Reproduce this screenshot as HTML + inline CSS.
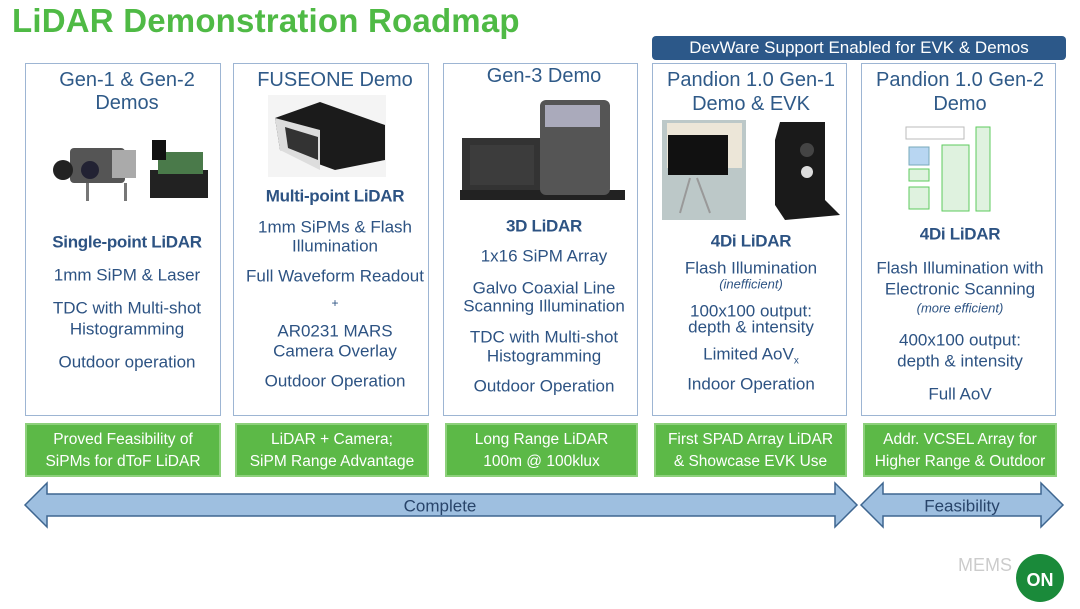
<!DOCTYPE html>
<html><head><meta charset="utf-8"><style>
*{margin:0;padding:0;box-sizing:border-box}
body{width:1080px;height:609px;background:#fff;position:relative;overflow:hidden;font-family:"Liberation Sans",sans-serif;color:#2d5383}
.t{position:absolute;white-space:nowrap;transform:translate(-50%,-50%);font-size:17px;line-height:1}
.h{font-size:20px;color:#2f5a88}
.b{font-weight:bold;font-size:17px;letter-spacing:-0.3px}
.s{font-size:13px;font-style:italic}
.box{position:absolute;top:63px;height:353px;border:1.5px solid #9db5d3;background:#fff}
.g{position:absolute;top:423px;height:54px;background:#5cb947;border:2px solid #8dd07b;color:#fff;font-size:15.5px;text-align:center;line-height:22px;padding-top:4px}
</style></head><body>
<div style="position:absolute;left:12px;top:2px;font-size:33px;color:#4fba45;font-weight:bold;letter-spacing:0.2px">LiDAR Demonstration Roadmap</div>
<div style="position:absolute;left:652px;top:36px;width:414px;height:24px;background:#2c5889;border-radius:4px;color:#fff;font-size:17px;text-align:center;line-height:24px">DevWare Support Enabled for EVK &amp; Demos</div>

<div class="box" style="left:25px;width:196px"></div>
<div class="box" style="left:233px;width:196px"></div>
<div class="box" style="left:443px;width:195px"></div>
<div class="box" style="left:652px;width:195px"></div>
<div class="box" style="left:861px;width:195px"></div>

<!-- images -->
<svg style="position:absolute;left:0;top:0" width="1080" height="609">
 <g>
  <rect x="70" y="148" width="55" height="35" fill="#555" rx="4"/><circle cx="63" cy="170" r="10" fill="#222"/><circle cx="90" cy="170" r="9" fill="#223"/>
  <rect x="112" y="150" width="24" height="28" fill="#aaa"/><rect x="86" y="183" width="3" height="18" fill="#777"/><rect x="124" y="183" width="3" height="18" fill="#777"/>
  <rect x="150" y="170" width="58" height="28" fill="#222"/><rect x="158" y="152" width="45" height="22" fill="#4a7a4a"/><rect x="152" y="140" width="14" height="20" fill="#111"/>
 </g>
 <g>
  <rect x="268" y="95" width="118" height="82" fill="#f4f4f4"/>
  <polygon points="275,118 320,102 385,125 385,160 335,170 280,150" fill="#1b1b1b"/>
  <polygon points="275,118 320,130 320,170 280,150" fill="#ddd"/>
  <polygon points="285,127 318,137 318,160 288,148" fill="#333"/>
 </g>
 <g>
  <rect x="462" y="138" width="80" height="55" fill="#333"/><rect x="460" y="190" width="165" height="10" fill="#222"/>
  <rect x="540" y="100" width="70" height="95" fill="#555" rx="6"/><rect x="545" y="105" width="55" height="22" fill="#aab"/>
  <rect x="470" y="145" width="64" height="40" fill="#3c3c3c"/>
 </g>
 <g>
  <rect x="662" y="120" width="84" height="100" fill="#bcc8c8"/><rect x="667" y="123" width="75" height="45" fill="#ece6d8"/>
  <rect x="668" y="135" width="60" height="40" fill="#111"/><line x1="690" y1="178" x2="680" y2="213" stroke="#999" stroke-width="2"/><line x1="697" y1="178" x2="710" y2="213" stroke="#999" stroke-width="2"/>
  <polygon points="775,140 780,122 825,122 825,200 840,215 785,220 775,205" fill="#1a1a1a"/>
  <circle cx="807" cy="150" r="7" fill="#444"/><circle cx="807" cy="172" r="6" fill="#ddd"/>
 </g>
 <g fill="#dff2df" stroke="#5ecb5e" stroke-width="1">
  <rect x="906" y="127" width="58" height="12" fill="#fff" stroke="#bbb"/>
  <rect x="909" y="147" width="20" height="18" fill="#b8d6f2" stroke="#7ab"/>
  <rect x="909" y="169" width="20" height="12"/>
  <rect x="909" y="187" width="20" height="22"/>
  <rect x="942" y="145" width="27" height="66"/>
  <rect x="976" y="127" width="14" height="84"/>
 </g>
 <!-- arrows -->
 <polygon points="25,505 47,483 47,494 835,494 835,483 857,505 835,527 835,516 47,516 47,527" fill="#9ebfe0" stroke="#3e6690" stroke-width="1.5"/>
 <polygon points="861,505 883,483 883,494 1041,494 1041,483 1063,505 1041,527 1041,516 883,516 883,527" fill="#9ebfe0" stroke="#3e6690" stroke-width="1.5"/>
 <!-- logo -->
 <circle cx="1040" cy="578" r="24" fill="#1a8a3a"/>
</svg>
<div class="t" style="left:440px;top:506px;font-size:17px;color:#28446a">Complete</div>
<div class="t" style="left:962px;top:506px;font-size:17px;color:#28446a">Feasibility</div>
<div class="t" style="left:985px;top:565px;font-size:18px;color:#ccc">MEMS</div>
<div class="t" style="left:1040px;top:580px;font-size:18px;color:#fff;font-weight:bold">ON</div>

<!-- box1 -->
<div class="t h" style="left:127px;top:80px">Gen-1 &amp; Gen-2</div>
<div class="t h" style="left:127px;top:103px">Demos</div>
<div class="t b" style="left:127px;top:242px">Single-point LiDAR</div>
<div class="t" style="left:127px;top:275px">1mm SiPM &amp; Laser</div>
<div class="t" style="left:127px;top:308px">TDC with Multi-shot</div>
<div class="t" style="left:127px;top:329px">Histogramming</div>
<div class="t" style="left:127px;top:362px">Outdoor operation</div>
<!-- box2 -->
<div class="t h" style="left:335px;top:80px">FUSEONE Demo</div>
<div class="t b" style="left:335px;top:196px">Multi-point LiDAR</div>
<div class="t" style="left:335px;top:227px">1mm SiPMs &amp; Flash</div>
<div class="t" style="left:335px;top:246px">Illumination</div>
<div class="t" style="left:335px;top:276px">Full Waveform Readout</div>
<div class="t" style="left:335px;top:303px;font-size:12px">+</div>
<div class="t" style="left:335px;top:331px">AR0231 MARS</div>
<div class="t" style="left:335px;top:351px">Camera Overlay</div>
<div class="t" style="left:335px;top:381px">Outdoor Operation</div>
<!-- box3 -->
<div class="t h" style="left:544px;top:76px">Gen-3 Demo</div>
<div class="t b" style="left:544px;top:226px">3D LiDAR</div>
<div class="t" style="left:544px;top:256px">1x16 SiPM Array</div>
<div class="t" style="left:544px;top:288px">Galvo Coaxial Line</div>
<div class="t" style="left:544px;top:306px">Scanning Illumination</div>
<div class="t" style="left:544px;top:337px">TDC with Multi-shot</div>
<div class="t" style="left:544px;top:356px">Histogramming</div>
<div class="t" style="left:544px;top:386px">Outdoor Operation</div>
<!-- box4 -->
<div class="t h" style="left:751px;top:80px">Pandion 1.0 Gen-1</div>
<div class="t h" style="left:751px;top:104px">Demo &amp; EVK</div>
<div class="t b" style="left:751px;top:241px">4Di LiDAR</div>
<div class="t" style="left:751px;top:268px">Flash Illumination</div>
<div class="t s" style="left:751px;top:284px">(<i>inefficient</i>)</div>
<div class="t" style="left:751px;top:311px">100x100 output:</div>
<div class="t" style="left:751px;top:327px">depth &amp; intensity</div>
<div class="t" style="left:751px;top:356px">Limited AoV<sub style="font-size:10px">x</sub></div>
<div class="t" style="left:751px;top:384px">Indoor Operation</div>
<!-- box5 -->
<div class="t h" style="left:960px;top:80px">Pandion 1.0 Gen-2</div>
<div class="t h" style="left:960px;top:104px">Demo</div>
<div class="t b" style="left:960px;top:234px">4Di LiDAR</div>
<div class="t" style="left:960px;top:268px">Flash Illumination with</div>
<div class="t" style="left:960px;top:289px">Electronic Scanning</div>
<div class="t s" style="left:960px;top:308px">(more efficient)</div>
<div class="t" style="left:960px;top:340px">400x100 output:</div>
<div class="t" style="left:960px;top:361px">depth &amp; intensity</div>
<div class="t" style="left:960px;top:394px">Full AoV</div>

<!-- green boxes -->
<div class="g" style="left:25px;width:196px">Proved Feasibility of<br>SiPMs for dToF LiDAR</div>
<div class="g" style="left:235px;width:194px">LiDAR + Camera;<br>SiPM Range Advantage</div>
<div class="g" style="left:445px;width:193px">Long Range LiDAR<br>100m @ 100klux</div>
<div class="g" style="left:654px;width:193px">First SPAD Array LiDAR<br>&amp; Showcase EVK Use</div>
<div class="g" style="left:863px;width:194px">Addr. VCSEL Array for<br>Higher Range &amp; Outdoor</div>
</body></html>
